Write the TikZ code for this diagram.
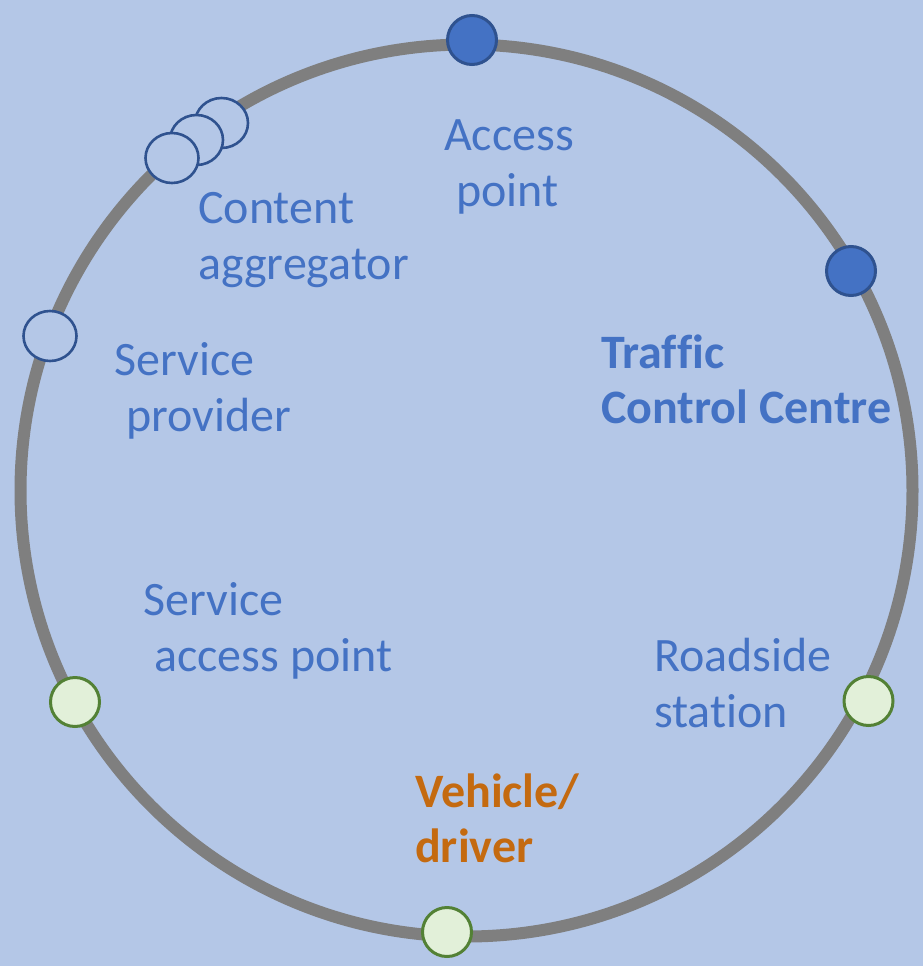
\documentclass[tikz,border=0pt]{standalone}
\usepackage{fontspec}
\setmainfont[Ligatures=NoCommon]{Carlito}
\usetikzlibrary{shapes.geometric}
\definecolor{bg}{HTML}{B4C7E7}
\definecolor{ring}{HTML}{7F7F7F}
\definecolor{txtblue}{HTML}{4472C4}
\definecolor{darkblue}{HTML}{2F528F}
\definecolor{lightgreen}{HTML}{E2F0D9}
\definecolor{darkgreen}{HTML}{538135}
\definecolor{orangetxt}{HTML}{C46A10}
\begin{document}
\begin{tikzpicture}[x=1pt,y=-1pt,
  lbl/.style={inner sep=0pt,anchor=base west,text=txtblue,font=\fontsize{48}{56}\selectfont},
  blbl/.style={lbl,font=\fontsize{48}{56}\selectfont\bfseries},
  olbl/.style={blbl,text=orangetxt},
  dotblue/.style={circle,draw=darkblue,fill=txtblue,line width=3pt,minimum size=49pt,inner sep=0pt},
  dotopen/.style={ellipse,draw=darkblue,fill=bg,line width=2.6pt,minimum width=53pt,minimum height=50pt,inner sep=0pt},
  dotgreen/.style={circle,draw=darkgreen,fill=lightgreen,line width=3pt,minimum size=49pt,inner sep=0pt}]
\fill[bg] (0,0) rectangle (923,966);
\useasboundingbox (0,0) rectangle (923,966);
\coordinate (c) at (466.5,490.5);
\draw[ring,line width=12pt] (c) circle[radius=446];
% dots
\node[dotblue] (ap) at (472,40) {};
\node[dotblue] (tcc) at (851,271) {};
\node[dotopen] (ca3) at (221.5,123) {};
\node[dotopen] (ca2) at (196.5,140) {};
\node[dotopen] (ca1) at (172,158) {};
\node[dotopen] (sp) at (50,336) {};
\node[dotgreen] (sap) at (75,702) {};
\node[dotgreen] (veh) at (447,932) {};
\node[dotgreen] (rs) at (868.5,701) {};
% labels
\node[lbl] (t1a) at (444,150) {Access};
\node[lbl] (t1b) at (456,206) {point};
\node[lbl] (t2a) at (198,223) {Content};
\node[lbl] (t2b) at (198,279) {aggregator};
\node[lbl] (t3a) at (114,375) {Service};
\node[lbl] (t3b) at (126,431) {provider};
\node[blbl] (t4a) at (601,368) {Traffic};
\node[blbl] (t4b) at (601,423) {Control Centre};
\node[lbl] (t5a) at (143,615) {Service};
\node[lbl] (t5b) at (154,671) {access point};
\node[lbl] (t6a) at (654,671) {Roadside};
\node[lbl] (t6b) at (654,727) {station};
\node[olbl] (t7a) at (415,807) {Vehicle/};
\node[olbl] (t7b) at (415,862) {driver};
\end{tikzpicture}
\end{document}
